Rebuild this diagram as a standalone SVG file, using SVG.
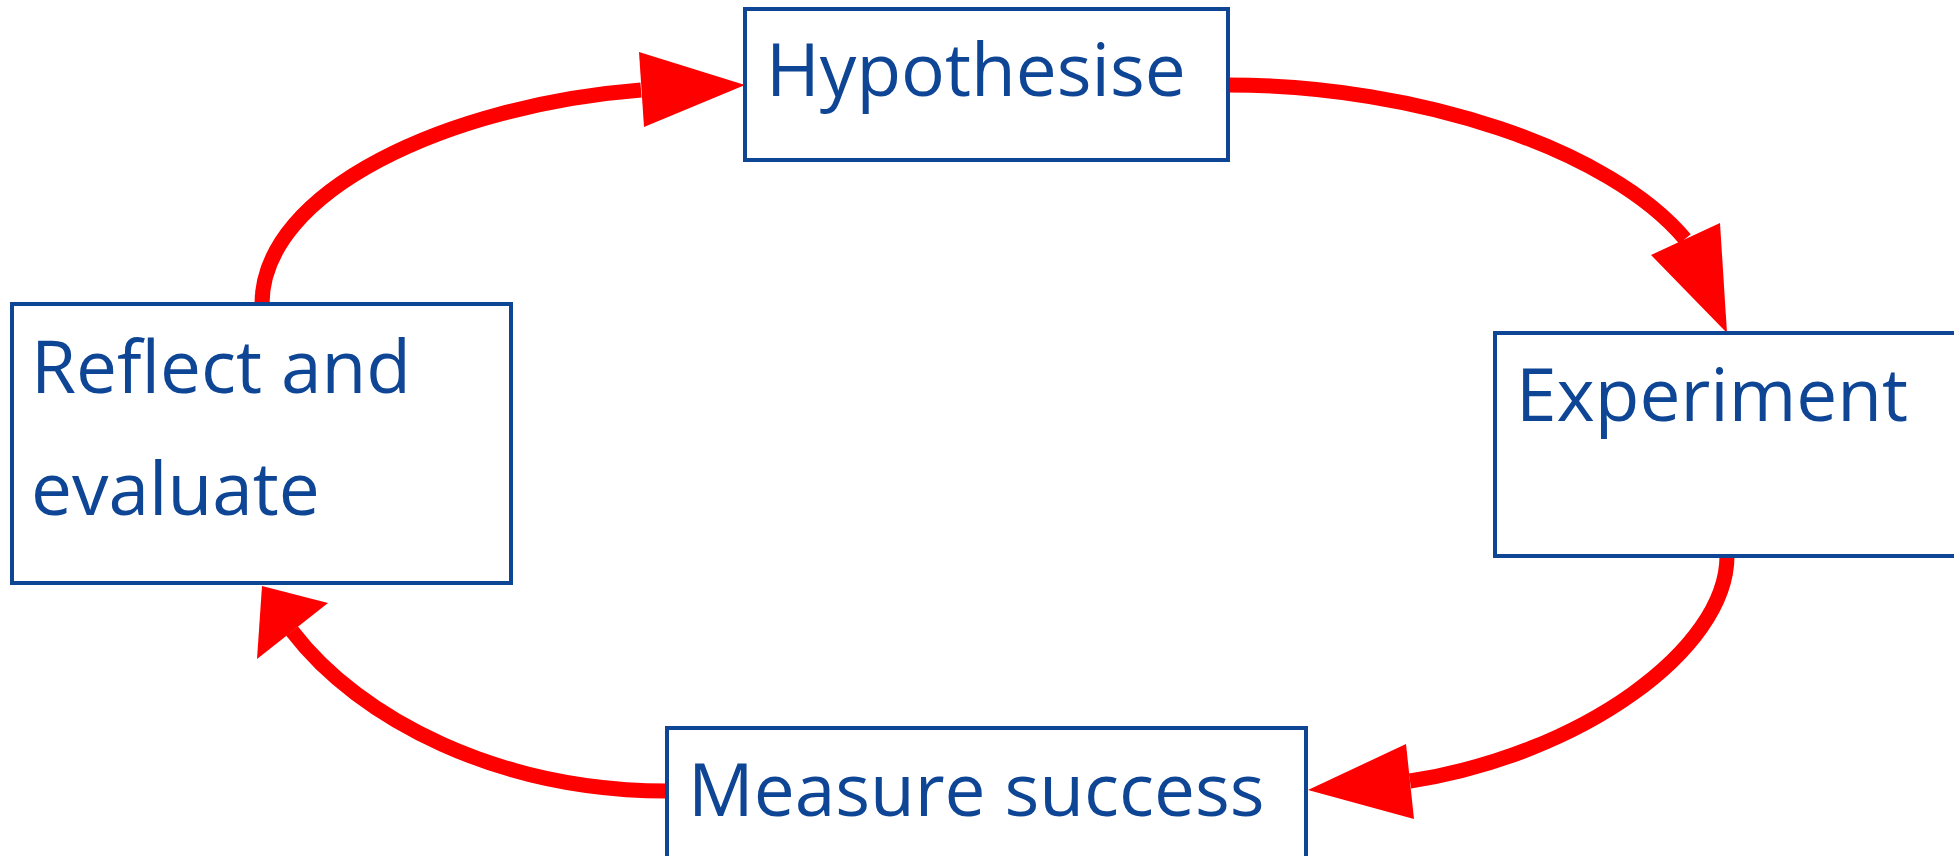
<svg xmlns="http://www.w3.org/2000/svg" width="1954" height="856" viewBox="0 0 1954 856">
  <style>
    .box { fill: #ffffff; stroke: #0e4595; stroke-width: 4; }
    .label { font-family: "Open Sans", "Noto Sans", "DejaVu Sans", sans-serif; font-size: 73px; fill: #0e4595; }
    .flow { fill: none; stroke: #ff0000; stroke-width: 15; }
    .head { fill: #ff0000; }
  </style>
  <rect width="1954" height="856" fill="#ffffff"/>

  <!-- connectors: curved cycle arrows -->
  <g id="connectors">
    <path class="flow" d="M262,304 C262,190 450,105 641,90"/>
    <polygon class="head" points="745,85 639,52 644,127"/>

    <path class="flow" d="M1228,85 C1420,85 1610,150 1685,239"/>
    <polygon class="head" points="1727,333 1651,255 1720,223"/>

    <path class="flow" d="M1727,556 C1727,650 1580,755 1410,781"/>
    <polygon class="head" points="1308,790 1406,744 1414,819"/>

    <path class="flow" d="M667,791 C500,791 360,720 292,631"/>
    <polygon class="head" points="262,586 257,659 328,603"/>
  </g>

  <g id="node-hypothesise">
    <rect class="box" x="745" y="9" width="483" height="151"/>
    <text class="label" x="766" y="96">Hypothesise</text>
  </g>

  <g id="node-experiment">
    <rect class="box" x="1495" y="333" width="470" height="223"/>
    <text class="label" x="1516" y="421">Experiment</text>
  </g>

  <g id="node-measure">
    <rect class="box" x="667" y="728" width="639" height="140"/>
    <text class="label" x="688" y="816">Measure success</text>
  </g>

  <g id="node-reflect">
    <rect class="box" x="12" y="304" width="499" height="279"/>
    <text class="label" x="31" y="393">Reflect and</text>
    <text class="label" x="31" y="515">evaluate</text>
  </g>
</svg>
